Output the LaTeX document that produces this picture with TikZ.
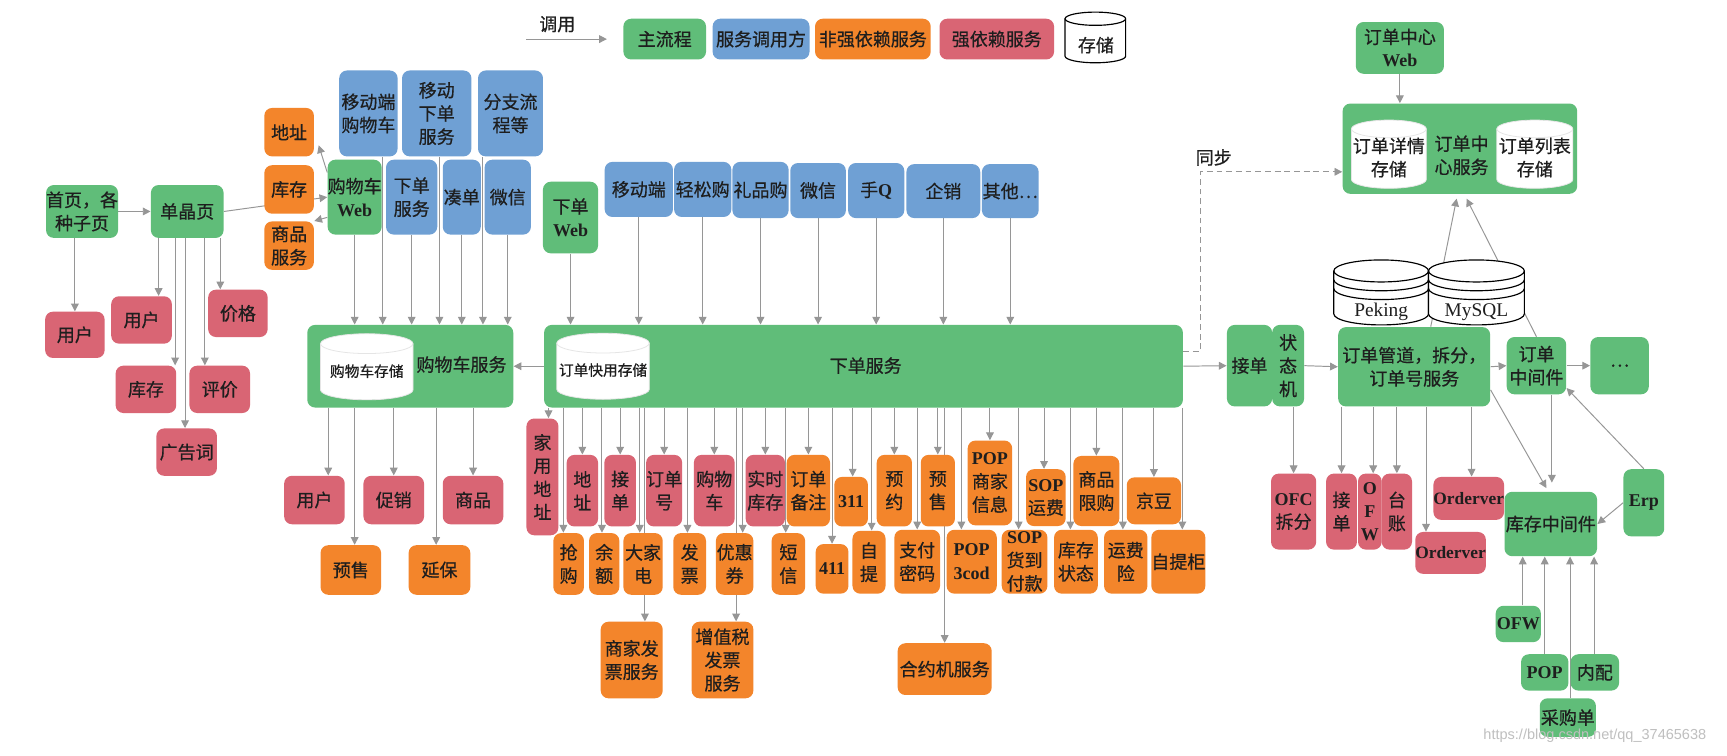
\documentclass[tikz,border=0pt]{standalone}
\usepackage{fontspec}
\setmainfont{Noto Sans CJK SC}[FakeBold=0.6]
\newfontfamily\en{Liberation Serif}
\newfontfamily\wm{Liberation Sans}
\usetikzlibrary{positioning, calc, arrows.meta, backgrounds}

\definecolor{mgreen}{RGB}{96,189,121}
\definecolor{mblue}{RGB}{111,160,212}
\definecolor{morange}{RGB}{243,133,43}
\definecolor{mred}{RGB}{217,101,116}
\definecolor{lgray}{RGB}{150,150,150}
\definecolor{txt}{RGB}{30,30,30}

\newcommand\fs{\fontsize{9.3pt}{12pt}\selectfont}
\newcommand\fsm{\fontsize{7.6pt}{9pt}\selectfont}
\newcommand\latb[1]{{\en\bfseries #1}}

% cylinder from (x1,y1) to (x2,y2), #6 = half height of the ellipse
\newcommand\dbcyl[6][]{%
  \pgfmathsetmacro\cylrx{(#4-#2)/2}%
  \path[#1] (#2,#3+#6) -- (#2,#5-#6)
    arc[start angle=180, end angle=0, x radius=\cylrx, y radius=#6]
    -- (#4,#3+#6)
    arc[start angle=0, end angle=-180, x radius=\cylrx, y radius=#6] -- cycle;
  \path[#1, fill=none] (#2,#3+#6)
    arc[start angle=180, end angle=0, x radius=\cylrx, y radius=#6];
}

\tikzset{
  spanbox/.style n args={4}{at={({(#1+#3)/2},{(#2+#4)/2})},
    minimum width={(#3-#1)*0.02cm}, minimum height={(#4-#2)*0.02cm}},
  cbox/.style={rounded corners=4pt, inner sep=0pt, align=center, text=txt, font=\fs},
  mainbox/.style={cbox, fill=mgreen},
  callbox/.style={cbox, fill=mblue},
  softbox/.style={cbox, fill=morange},
  hardbox/.style={cbox, fill=mred},
  lbl/.style={inner sep=0pt, align=center, text=txt, font=\fs},
  arr/.style={draw=lgray, line width=0.5pt, -{Triangle[length=4pt, width=4pt]}},
}

\begin{document}
\begin{tikzpicture}[x=0.02cm, y=-0.02cm]
    \path[use as bounding box] (0,0) rectangle (1568,686);

    % legend
    \coordinate (callS) at (478,35.5);
    \coordinate (callE) at (551,35.5);
    \node[lbl] (callT) at (506,22) {调用};
    \node[mainbox, spanbox={566}{17}{641}{54}] (legMain) {主流程};
    \node[callbox, spanbox={647}{17}{735}{54}] (legCall) {服务调用方};
    \node[softbox, spanbox={740}{17}{845}{54}] (legSoft) {非强依赖服务};
    \node[hardbox, spanbox={853}{17}{957}{54}] (legHard) {强依赖服务};
    \dbcyl[draw=black, fill=white, line width=0.6pt]{967}{11}{1022}{57}{6}
    \node[lbl] (legStore) at (995,41) {存储};

    % product pages
    \node[mainbox, spanbox={42}{168}{107}{216}] (home) {首页，各\\种子页};
    \node[mainbox, spanbox={137}{168}{203}{216}] (item) {单晶页};
    \node[hardbox, spanbox={41}{283}{95}{325}] (user1) {用户};
    \node[hardbox, spanbox={101}{269}{156}{312}] (user2) {用户};
    \node[hardbox, spanbox={189}{263}{243}{306}] (price) {价格};
    \node[hardbox, spanbox={105}{332}{160}{375}] (stock1) {库存};
    \node[hardbox, spanbox={172}{332}{227}{375}] (review) {评价};
    \node[hardbox, spanbox={142}{389}{197}{432}] (adword) {广告词};

    % cart
    \node[softbox, spanbox={240}{98}{285}{142}] (addr1) {地址};
    \node[softbox, spanbox={240}{150}{285}{194}] (stock2) {库存};
    \node[softbox, spanbox={240}{201}{285}{245}] (goodsvc) {商品\\服务};
    \node[mainbox, spanbox={299}{145}{345}{213}] (cartweb) {购物车\\\latb{Web}};
    \node[callbox, spanbox={308}{64}{361}{142}] (mcart) {移动端\\购物车};
    \node[callbox, spanbox={365}{64}{428}{142}] (mxd) {移动\\下单\\服务};
    \node[callbox, spanbox={434}{64}{493}{142}] (branch) {分支流\\程等};
    \node[callbox, spanbox={350.5}{145}{397}{213}] (xd1) {下单\\服务};
    \node[callbox, spanbox={402}{145}{436.5}{213}] (coudan) {凑单};
    \node[callbox, spanbox={440}{145}{482}{213}] (wx1) {微信};

    \node[mainbox, spanbox={279}{295}{466}{370}] (cartsvc) {};
    \dbcyl[fill=white, draw=black!10]{291}{303}{375}{363}{9}
    \node[lbl, font=\fsm] (cartstore) at (333,337) {购物车存储};
    \node[lbl] (cartsvcT) at (419,331) {购物车服务};

    \node[hardbox, spanbox={258}{432}{313}{476}] (user3) {用户};
    \node[hardbox, spanbox={330}{432}{385}{476}] (promo) {促销};
    \node[hardbox, spanbox={402}{432}{457}{476}] (goods) {商品};
    \node[softbox, spanbox={291}{495}{346}{540}] (presale1) {预售};
    \node[softbox, spanbox={371}{495}{427}{540}] (warranty) {延保};

    % order service
    \node[mainbox, spanbox={493}{165}{543}{230}] (orderweb) {下单\\\latb{Web}};
    \node[callbox, spanbox={549}{147}{611}{197}] (mob) {移动端};
    \node[callbox, spanbox={612}{147}{664}{197}] (easy) {轻松购};
    \node[callbox, spanbox={665}{147}{716}{198}] (gift) {礼品购};
    \node[callbox, spanbox={717.5}{148}{768}{198}] (wx2) {微信};
    \node[callbox, spanbox={770}{148}{821}{198}] (qq) {手\latb{Q}};
    \node[callbox, spanbox={823}{149}{890}{198}] (corp) {企销};
    \node[callbox, spanbox={891.5}{149}{943}{198}] (other) {其他…};

    \node[mainbox, spanbox={494}{295}{1074}{370}] (ordersvc) {};
    \dbcyl[fill=white, draw=black!10]{505.5}{302.5}{589.5}{362.5}{9}
    \node[lbl, font=\fsm] (quickstore) at (547.5,336) {订单快用存储};
    \node[lbl] (ordersvcT) at (786,332) {下单服务};

    \node[hardbox, spanbox={478}{380}{507}{486}] (homeaddr) {家\\用\\地\\址};
    \node[hardbox, spanbox={514.5}{413}{543}{478}] (addr2) {地\\址};
    \node[hardbox, spanbox={548.7}{413}{577.4}{478}] (accept1) {接\\单};
    \node[hardbox, spanbox={588.6}{413}{617.4}{478}] (orderno) {订单\\号};
    \node[hardbox, spanbox={630}{413}{667}{478}] (cart2) {购物\\车};
    \node[hardbox, spanbox={677}{413}{712.7}{478}] (rtstock) {实时\\库存};
    \node[softbox, spanbox={714.3}{413}{753.6}{478}] (remark) {订单\\备注};
    \node[softbox, spanbox={757.5}{433}{788}{478}] (n311) {\latb{311}};
    \node[softbox, spanbox={796}{413}{828}{478}] (reserve) {预\\约};
    \node[softbox, spanbox={836}{413}{867}{478}] (presale2) {预\\售};
    \node[softbox, spanbox={878.6}{400}{919}{477}] (popinfo) {\latb{POP}\\商家\\信息};
    \node[softbox, spanbox={931.6}{426}{967.6}{477.6}] (sopfee) {\latb{SOP}\\运费};
    \node[softbox, spanbox={974.6}{414}{1016.3}{477.6}] (limit) {商品\\限购};
    \node[softbox, spanbox={1023}{433.4}{1072.3}{476}] (jdbean) {京豆};

    \node[softbox, spanbox={502.4}{484}{530.2}{540}] (rush) {抢\\购};
    \node[softbox, spanbox={534.8}{484}{562.3}{540}] (balance) {余\\额};
    \node[softbox, spanbox={566}{484}{601.7}{540}] (appliance) {大家\\电};
    \node[softbox, spanbox={611.3}{484}{641}{540}] (invoice) {发\\票};
    \node[softbox, spanbox={650}{484}{684}{540}] (coupon) {优惠\\券};
    \node[softbox, spanbox={700.6}{484}{731}{540}] (sms) {短\\信};
    \node[softbox, spanbox={740.6}{494}{770.3}{539}] (n411) {\latb{411}};
    \node[softbox, spanbox={774}{482}{804}{539}] (pickup) {自\\提};
    \node[softbox, spanbox={812}{481}{853.5}{539}] (paypwd) {支付\\密码};
    \node[softbox, spanbox={859.5}{481}{905}{539}] (pop3cod) {\latb{POP}\\\latb{3cod}};
    \node[softbox, spanbox={909.5}{481}{951}{539}] (sopcod) {\latb{SOP}\\货到\\付款};
    \node[softbox, spanbox={957}{481}{996.7}{539}] (stockst) {库存\\状态};
    \node[softbox, spanbox={1002.4}{481}{1041.8}{539}] (freight) {运费\\险};
    \node[softbox, spanbox={1045.7}{481}{1094}{539}] (locker) {自提柜};

    \node[softbox, spanbox={545.4}{564.5}{601.7}{634}] (bizinv) {商家发\\票服务};
    \node[softbox, spanbox={628}{564.5}{684}{634}] (vatinv) {增值税\\发票\\服务};
    \node[softbox, spanbox={815}{584}{900.4}{631}] (contract) {合约机服务};

    % order center
    \node[mainbox, spanbox={1231}{20}{1311}{67}] (occweb) {订单中心\\\latb{Web}};
    \node[mainbox, spanbox={1219}{94}{1432}{176}] (occ) {};
    \dbcyl[fill=white, draw=black!10]{1227}{109}{1295}{171}{8}
    \dbcyl[fill=white, draw=black!10]{1359}{109}{1428}{171}{8}
    \node[lbl] (detailstore) at (1261,143) {订单详情\\存储};
    \node[lbl] (liststore) at (1393.5,143) {订单列表\\存储};
    \node[lbl] (occT) at (1327,141) {订单中\\心服务};
    \node[lbl] (syncT) at (1102,143) {同步};

    % databases
    \dbcyl[draw=black, fill=white, line width=0.6pt]{1211}{236}{1297}{295}{10}
    \dbcyl[draw=black, fill=white, line width=0.6pt]{1297}{236}{1384}{295}{10}
    \draw[line width=0.6pt] (1211,254) arc[start angle=180, end angle=0, x radius=43, y radius=10];
    \draw[line width=0.6pt] (1211,262) arc[start angle=180, end angle=0, x radius=43, y radius=10];
    \draw[line width=0.6pt] (1297,254) arc[start angle=180, end angle=0, x radius=43.5, y radius=10];
    \draw[line width=0.6pt] (1297,262) arc[start angle=180, end angle=0, x radius=43.5, y radius=10];
    \node[lbl, font=\en\fontsize{10pt}{12pt}\selectfont] (peking) at (1254,283) {Peking};
    \node[lbl, font=\en\fontsize{10pt}{12pt}\selectfont] (mysql) at (1340.5,283) {MySQL};

    % order pipeline
    \node[mainbox, spanbox={1114}{295}{1155}{369}] (accept) {接单};
    \node[mainbox, spanbox={1155}{295}{1184}{369}] (fsm) {状\\态\\机};
    \node[mainbox, spanbox={1215}{297}{1353}{369}] (pipe) {订单管道，拆分，\\订单号服务};
    \node[mainbox, spanbox={1368}{306}{1422}{358}] (omw) {订单\\中间件};
    \node[mainbox, spanbox={1444}{306}{1497}{358}] (more) {…};

    \node[hardbox, spanbox={1154}{430}{1195}{499}] (ofc) {\latb{OFC}\\拆分};
    \node[hardbox, spanbox={1204}{430}{1232}{499}] (accept2) {接\\单};
    \node[hardbox, spanbox={1233}{430}{1254.5}{499}, font=\fs\en\bfseries] (ofw1) {O\\F\\W};
    \node[hardbox, spanbox={1254.5}{430}{1282}{499}] (ledger) {台\\账};
    \node[hardbox, spanbox={1302}{433}{1365}{472}, font=\en\bfseries\fontsize{9pt}{11pt}\selectfont] (ov1) {Orderver};
    \node[hardbox, spanbox={1286}{483}{1348}{521}, font=\en\bfseries\fontsize{9pt}{11pt}\selectfont] (ov2) {Orderver};

    \node[mainbox, spanbox={1366}{446.5}{1450}{505}] (smw) {库存中间件};
    \node[mainbox, spanbox={1474}{426}{1511}{487}] (erp) {\latb{Erp}};
    \node[mainbox, spanbox={1358}{550}{1399}{583}] (ofw2) {\latb{OFW}};
    \node[mainbox, spanbox={1381}{594}{1424}{627}] (popg) {\latb{POP}};
    \node[mainbox, spanbox={1426}{594}{1470}{627}] (inner) {内配};
    \node[mainbox, spanbox={1398}{634}{1449}{669}] (purchase) {采购单};

    \node[inner sep=0pt, text=black!25, font=\wm\fontsize{7.5pt}{9pt}\selectfont] (mark) at (1448,668) {https://blog.csdn.net/qq\_37465638};

    % connectors
    \begin{scope}[on background layer]
    \fill[white] (0,0) rectangle (1568,686);
    \draw[arr] (callS) -- (callE);

    \draw[arr] (home) -- (item);
    \draw[arr] (home.south -| user1.north) -- (user1.north);
    \foreach \nm/\dx in {user2/15.5, stock1/26.5, adword/-1.5, review/-13.5, price/-16}
        \draw[arr] ($(item.south -| \nm.north)+(\dx,0)$) -- ($(\nm.north)+(\dx,0)$);

    \draw[arr] (item.east) -- (cartweb.west);
    \draw[arr] ($(cartweb.north west)+(0,12)$) -- ($(addr1.east)+(4,12)$);
    \draw[arr] ($(cartweb.south west)+(0,-16)$) -- (goodsvc.north east);
    \foreach \nm/\dx in {cartweb/0, mcart/13, xd1/0, mxd/2.5, coudan/0, branch/-25, wx1/0}
        \draw[arr] ($(\nm.south)+(\dx,0)$) -- ($(\nm.south |- cartsvc.north)+(\dx,0)$);
    \foreach \nm/\dx in {user3/12.5, presale1/3.5, promo/0, warranty/-3, goods/0}
        \draw[arr] ($(\nm.north |- cartsvc.south)+(\dx,0)$) -- ($(\nm.north)+(\dx,0)$);

    \foreach \nm in {orderweb, mob, easy, gift, wx2, qq, corp, other}
        \draw[arr] (\nm.south) -- (\nm.south |- ordersvc.north);
    \draw[arr] (ordersvc.west) -- (cartsvc.east);
    \foreach \nm/\dx in {homeaddr/5.5, addr2/0, accept1/0, orderno/0, cart2/0, rtstock/0,
            remark/0, n311/1.4, reserve/0, presale2/0, popinfo/0, sopfee/-1.7, limit/0, jdbean/0,
            rush/-4.8, balance/-2, appliance/-3, invoice/-2, coupon/7.3, sms/-2.4, n411/0,
            pickup/2.4, paypwd/0, pop3cod/-9.4, sopcod/-5.4, stockst/-5, freight/-2.6,
            locker/3.6, bizinv/12, vatinv/12.3, contract/0}
        \draw[arr] ($(\nm.north |- ordersvc.south)+(\dx,0)$) -- ($(\nm.north)+(\dx,0)$);

    % sync and pipeline
    \coordinate (syncTurn) at (1090,319);
    \draw[arr, dashed, dash pattern=on 3pt off 2pt] (ordersvc.east |- syncTurn) -- (syncTurn)
        |- ($(occ.west)+(0,21)$);
    \draw[arr] (occweb.south) -- (occweb.south |- occ.north);
    \draw[arr] (ordersvc.east) -- (accept.west);
    \draw[arr] (fsm.east) -- (pipe.west);
    \draw[arr] (pipe.east) -- (omw.west);
    \draw[arr] (omw.east) -- (more.west);
    \draw[arr] ($(pipe.north)+(15,0)$) -- ($(occ.south)+(-3,4)$);
    \draw[arr] (omw.north) -- ($(occ.south)+(6,4)$);
    \draw[arr] ($(pipe.east)+(0,21)$) -- ($(smw.north)+(-4,-3)$);
    \draw[arr] ($(omw.south -| smw.north)+(1,0)$) -- ($(smw.north)+(1,-8)$);
    \draw[arr] (erp.west) -- (smw.east);
    \draw[arr] (erp.north) -- ($(omw.south east)+(0,-6)$);

    \draw[arr] (ofc.north |- fsm.south) -- (ofc.north);
    \foreach \nm/\dx in {accept2/0, ofw1/3, ledger/0, ov2/-22.3, ov1/2.6}
        \draw[arr] ($(\nm.north |- pipe.south)+(\dx,0)$) -- ($(\nm.north)+(\dx,0)$);
    \foreach \nm/\dx in {ofw2/4, popg/0, purchase/2, inner/-0.7}
        \draw[arr] ($(\nm.north)+(\dx,0)$) -- ($(\nm.north |- smw.south)+(\dx,0)$);
    \end{scope}
\end{tikzpicture}
\end{document}
